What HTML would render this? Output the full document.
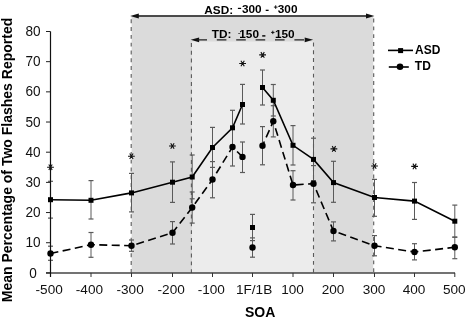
<!DOCTYPE html><html><head><meta charset="utf-8"><style>html,body{margin:0;padding:0;background:#fff;}svg{display:block;will-change:transform;}text{font-family:"Liberation Sans",sans-serif;}</style></head><body>
<svg width="466" height="320" viewBox="0 0 466 320">
<rect x="131.6" y="16.6" width="241.6" height="256.29999999999995" fill="#dbdbdb"/>
<rect x="191.9" y="41.5" width="122.20000000000002" height="231.39999999999998" fill="#ececec"/>
<line x1="131.2" y1="19.3" x2="131.2" y2="272.9" stroke="#5a5a5a" stroke-width="1.1" stroke-dasharray="3.9 3.9"/>
<line x1="191.4" y1="43" x2="191.4" y2="272.9" stroke="#5a5a5a" stroke-width="1.1" stroke-dasharray="3.9 3.9"/>
<line x1="313.5" y1="42.5" x2="313.5" y2="272.9" stroke="#5a5a5a" stroke-width="1.1" stroke-dasharray="3.9 3.9"/>
<line x1="373.7" y1="18.6" x2="373.7" y2="272.9" stroke="#5a5a5a" stroke-width="1.1" stroke-dasharray="3.9 3.9"/>
<line x1="46" y1="272.9" x2="455" y2="272.9" stroke="#444" stroke-width="1.5"/>
<line x1="46" y1="272.90" x2="50.5" y2="272.90" stroke="#222" stroke-width="1"/>
<text transform="translate(33.1 277.50) scale(1 1.1)" font-size="13.6" text-anchor="middle" fill="#111">0</text>
<line x1="46" y1="242.72" x2="50.5" y2="242.72" stroke="#222" stroke-width="1"/>
<text transform="translate(33.1 247.32) scale(1 1.1)" font-size="13.6" text-anchor="middle" fill="#111">10</text>
<line x1="46" y1="212.55" x2="50.5" y2="212.55" stroke="#222" stroke-width="1"/>
<text transform="translate(33.1 217.15) scale(1 1.1)" font-size="13.6" text-anchor="middle" fill="#111">20</text>
<line x1="46" y1="182.38" x2="50.5" y2="182.38" stroke="#222" stroke-width="1"/>
<text transform="translate(33.1 186.98) scale(1 1.1)" font-size="13.6" text-anchor="middle" fill="#111">30</text>
<line x1="46" y1="152.20" x2="50.5" y2="152.20" stroke="#222" stroke-width="1"/>
<text transform="translate(33.1 156.80) scale(1 1.1)" font-size="13.6" text-anchor="middle" fill="#111">40</text>
<line x1="46" y1="122.03" x2="50.5" y2="122.03" stroke="#222" stroke-width="1"/>
<text transform="translate(33.1 126.62) scale(1 1.1)" font-size="13.6" text-anchor="middle" fill="#111">50</text>
<line x1="46" y1="91.85" x2="50.5" y2="91.85" stroke="#222" stroke-width="1"/>
<text transform="translate(33.1 96.45) scale(1 1.1)" font-size="13.6" text-anchor="middle" fill="#111">60</text>
<line x1="46" y1="61.67" x2="50.5" y2="61.67" stroke="#222" stroke-width="1"/>
<text transform="translate(33.1 66.27) scale(1 1.1)" font-size="13.6" text-anchor="middle" fill="#111">70</text>
<line x1="46" y1="31.50" x2="50.5" y2="31.50" stroke="#222" stroke-width="1"/>
<text transform="translate(33.1 36.10) scale(1 1.1)" font-size="13.6" text-anchor="middle" fill="#111">80</text>
<line x1="50.5" y1="272.9" x2="50.5" y2="277" stroke="#333" stroke-width="1"/>
<text transform="translate(49.2 294.0)" font-size="13.6" text-anchor="middle" fill="#111">-500</text>
<line x1="91.0" y1="272.9" x2="91.0" y2="277" stroke="#333" stroke-width="1"/>
<text transform="translate(89.4 294.0)" font-size="13.6" text-anchor="middle" fill="#111">-400</text>
<line x1="131.5" y1="272.9" x2="131.5" y2="277" stroke="#333" stroke-width="1"/>
<text transform="translate(130.1 294.0)" font-size="13.6" text-anchor="middle" fill="#111">-300</text>
<line x1="172.5" y1="272.9" x2="172.5" y2="277" stroke="#333" stroke-width="1"/>
<text transform="translate(171.2 294.0)" font-size="13.6" text-anchor="middle" fill="#111">-200</text>
<line x1="212.5" y1="272.9" x2="212.5" y2="277" stroke="#333" stroke-width="1"/>
<text transform="translate(211.3 294.0)" font-size="13.6" text-anchor="middle" fill="#111">-100</text>
<line x1="252.5" y1="272.9" x2="252.5" y2="277" stroke="#333" stroke-width="1"/>
<text transform="translate(254.1 294.0)" font-size="13.6" text-anchor="middle" fill="#111">1F/1B</text>
<line x1="293.0" y1="272.9" x2="293.0" y2="277" stroke="#333" stroke-width="1"/>
<text transform="translate(292.5 294.0)" font-size="13.6" text-anchor="middle" fill="#111">100</text>
<line x1="333.5" y1="272.9" x2="333.5" y2="277" stroke="#333" stroke-width="1"/>
<text transform="translate(333.0 294.0)" font-size="13.6" text-anchor="middle" fill="#111">200</text>
<line x1="374.5" y1="272.9" x2="374.5" y2="277" stroke="#333" stroke-width="1"/>
<text transform="translate(374.0 294.0)" font-size="13.6" text-anchor="middle" fill="#111">300</text>
<line x1="414.5" y1="272.9" x2="414.5" y2="277" stroke="#333" stroke-width="1"/>
<text transform="translate(414.0 294.0)" font-size="13.6" text-anchor="middle" fill="#111">400</text>
<line x1="454.8" y1="272.9" x2="454.8" y2="277" stroke="#333" stroke-width="1"/>
<text transform="translate(454.3 294.0)" font-size="13.6" text-anchor="middle" fill="#111">500</text>
<text x="260.2" y="316.8" font-size="14" font-weight="bold" text-anchor="middle" fill="#000">SOA</text>
<text transform="translate(12.3 160) rotate(-90)" x="0" y="0" font-size="14" font-weight="bold" text-anchor="middle" fill="#000">Mean Percentage of Two Flashes Reported</text>
<line x1="50.5" y1="181.3" x2="50.5" y2="218.1" stroke="#5a5a5a" stroke-width="1"/><line x1="48.0" y1="181.3" x2="53.0" y2="181.3" stroke="#5a5a5a" stroke-width="1.2"/><line x1="48.0" y1="218.1" x2="53.0" y2="218.1" stroke="#5a5a5a" stroke-width="1.2"/>
<line x1="91.0" y1="180.6" x2="91.0" y2="219.0" stroke="#5a5a5a" stroke-width="1"/><line x1="88.5" y1="180.6" x2="93.5" y2="180.6" stroke="#5a5a5a" stroke-width="1.2"/><line x1="88.5" y1="219.0" x2="93.5" y2="219.0" stroke="#5a5a5a" stroke-width="1.2"/>
<line x1="131.5" y1="173.4" x2="131.5" y2="211.9" stroke="#5a5a5a" stroke-width="1"/><line x1="129.0" y1="173.4" x2="134.0" y2="173.4" stroke="#5a5a5a" stroke-width="1.2"/><line x1="129.0" y1="211.9" x2="134.0" y2="211.9" stroke="#5a5a5a" stroke-width="1.2"/>
<line x1="172.5" y1="161.9" x2="172.5" y2="202.4" stroke="#5a5a5a" stroke-width="1"/><line x1="170.0" y1="161.9" x2="175.0" y2="161.9" stroke="#5a5a5a" stroke-width="1.2"/><line x1="170.0" y1="202.4" x2="175.0" y2="202.4" stroke="#5a5a5a" stroke-width="1.2"/>
<line x1="192.2" y1="155.0" x2="192.2" y2="198.8" stroke="#5a5a5a" stroke-width="1"/><line x1="189.7" y1="155.0" x2="194.7" y2="155.0" stroke="#5a5a5a" stroke-width="1.2"/><line x1="189.7" y1="198.8" x2="194.7" y2="198.8" stroke="#5a5a5a" stroke-width="1.2"/>
<line x1="212.5" y1="127.4" x2="212.5" y2="167.4" stroke="#5a5a5a" stroke-width="1"/><line x1="210.0" y1="127.4" x2="215.0" y2="127.4" stroke="#5a5a5a" stroke-width="1.2"/><line x1="210.0" y1="167.4" x2="215.0" y2="167.4" stroke="#5a5a5a" stroke-width="1.2"/>
<line x1="232.5" y1="110.3" x2="232.5" y2="145.3" stroke="#5a5a5a" stroke-width="1"/><line x1="230.0" y1="110.3" x2="235.0" y2="110.3" stroke="#5a5a5a" stroke-width="1.2"/><line x1="230.0" y1="145.3" x2="235.0" y2="145.3" stroke="#5a5a5a" stroke-width="1.2"/>
<line x1="242.5" y1="84.4" x2="242.5" y2="124.0" stroke="#5a5a5a" stroke-width="1"/><line x1="240.0" y1="84.4" x2="245.0" y2="84.4" stroke="#5a5a5a" stroke-width="1.2"/><line x1="240.0" y1="124.0" x2="245.0" y2="124.0" stroke="#5a5a5a" stroke-width="1.2"/>
<line x1="252.5" y1="214.4" x2="252.5" y2="240.6" stroke="#5a5a5a" stroke-width="1"/><line x1="250.0" y1="214.4" x2="255.0" y2="214.4" stroke="#5a5a5a" stroke-width="1.2"/><line x1="250.0" y1="240.6" x2="255.0" y2="240.6" stroke="#5a5a5a" stroke-width="1.2"/>
<line x1="262.5" y1="70.0" x2="262.5" y2="105.0" stroke="#5a5a5a" stroke-width="1"/><line x1="260.0" y1="70.0" x2="265.0" y2="70.0" stroke="#5a5a5a" stroke-width="1.2"/><line x1="260.0" y1="105.0" x2="265.0" y2="105.0" stroke="#5a5a5a" stroke-width="1.2"/>
<line x1="273.3" y1="84.5" x2="273.3" y2="116.0" stroke="#5a5a5a" stroke-width="1"/><line x1="270.8" y1="84.5" x2="275.8" y2="84.5" stroke="#5a5a5a" stroke-width="1.2"/><line x1="270.8" y1="116.0" x2="275.8" y2="116.0" stroke="#5a5a5a" stroke-width="1.2"/>
<line x1="293.0" y1="125.6" x2="293.0" y2="165.0" stroke="#5a5a5a" stroke-width="1"/><line x1="290.5" y1="125.6" x2="295.5" y2="125.6" stroke="#5a5a5a" stroke-width="1.2"/><line x1="290.5" y1="165.0" x2="295.5" y2="165.0" stroke="#5a5a5a" stroke-width="1.2"/>
<line x1="313.5" y1="138.2" x2="313.5" y2="180.6" stroke="#5a5a5a" stroke-width="1"/><line x1="311.0" y1="138.2" x2="316.0" y2="138.2" stroke="#5a5a5a" stroke-width="1.2"/><line x1="311.0" y1="180.6" x2="316.0" y2="180.6" stroke="#5a5a5a" stroke-width="1.2"/>
<line x1="333.5" y1="161.3" x2="333.5" y2="202.3" stroke="#5a5a5a" stroke-width="1"/><line x1="331.0" y1="161.3" x2="336.0" y2="161.3" stroke="#5a5a5a" stroke-width="1.2"/><line x1="331.0" y1="202.3" x2="336.0" y2="202.3" stroke="#5a5a5a" stroke-width="1.2"/>
<line x1="374.5" y1="179.4" x2="374.5" y2="216.3" stroke="#5a5a5a" stroke-width="1"/><line x1="372.0" y1="179.4" x2="377.0" y2="179.4" stroke="#5a5a5a" stroke-width="1.2"/><line x1="372.0" y1="216.3" x2="377.0" y2="216.3" stroke="#5a5a5a" stroke-width="1.2"/>
<line x1="414.5" y1="182.5" x2="414.5" y2="219.4" stroke="#5a5a5a" stroke-width="1"/><line x1="412.0" y1="182.5" x2="417.0" y2="182.5" stroke="#5a5a5a" stroke-width="1.2"/><line x1="412.0" y1="219.4" x2="417.0" y2="219.4" stroke="#5a5a5a" stroke-width="1.2"/>
<line x1="454.8" y1="205.1" x2="454.8" y2="237.3" stroke="#5a5a5a" stroke-width="1"/><line x1="452.3" y1="205.1" x2="457.3" y2="205.1" stroke="#5a5a5a" stroke-width="1.2"/><line x1="452.3" y1="237.3" x2="457.3" y2="237.3" stroke="#5a5a5a" stroke-width="1.2"/>
<line x1="50.5" y1="246.2" x2="50.5" y2="260.3" stroke="#5a5a5a" stroke-width="1"/><line x1="48.0" y1="246.2" x2="53.0" y2="246.2" stroke="#5a5a5a" stroke-width="1.2"/><line x1="48.0" y1="260.3" x2="53.0" y2="260.3" stroke="#5a5a5a" stroke-width="1.2"/>
<line x1="91.0" y1="232.5" x2="91.0" y2="257.3" stroke="#5a5a5a" stroke-width="1"/><line x1="88.5" y1="232.5" x2="93.5" y2="232.5" stroke="#5a5a5a" stroke-width="1.2"/><line x1="88.5" y1="257.3" x2="93.5" y2="257.3" stroke="#5a5a5a" stroke-width="1.2"/>
<line x1="131.5" y1="240.0" x2="131.5" y2="251.3" stroke="#5a5a5a" stroke-width="1"/><line x1="129.0" y1="240.0" x2="134.0" y2="240.0" stroke="#5a5a5a" stroke-width="1.2"/><line x1="129.0" y1="251.3" x2="134.0" y2="251.3" stroke="#5a5a5a" stroke-width="1.2"/>
<line x1="172.5" y1="221.6" x2="172.5" y2="244.0" stroke="#5a5a5a" stroke-width="1"/><line x1="170.0" y1="221.6" x2="175.0" y2="221.6" stroke="#5a5a5a" stroke-width="1.2"/><line x1="170.0" y1="244.0" x2="175.0" y2="244.0" stroke="#5a5a5a" stroke-width="1.2"/>
<line x1="192.2" y1="192.0" x2="192.2" y2="223.1" stroke="#5a5a5a" stroke-width="1"/><line x1="189.7" y1="192.0" x2="194.7" y2="192.0" stroke="#5a5a5a" stroke-width="1.2"/><line x1="189.7" y1="223.1" x2="194.7" y2="223.1" stroke="#5a5a5a" stroke-width="1.2"/>
<line x1="212.5" y1="161.6" x2="212.5" y2="197.8" stroke="#5a5a5a" stroke-width="1"/><line x1="210.0" y1="161.6" x2="215.0" y2="161.6" stroke="#5a5a5a" stroke-width="1.2"/><line x1="210.0" y1="197.8" x2="215.0" y2="197.8" stroke="#5a5a5a" stroke-width="1.2"/>
<line x1="232.5" y1="128.0" x2="232.5" y2="166.0" stroke="#5a5a5a" stroke-width="1"/><line x1="230.0" y1="128.0" x2="235.0" y2="128.0" stroke="#5a5a5a" stroke-width="1.2"/><line x1="230.0" y1="166.0" x2="235.0" y2="166.0" stroke="#5a5a5a" stroke-width="1.2"/>
<line x1="242.5" y1="142.0" x2="242.5" y2="172.5" stroke="#5a5a5a" stroke-width="1"/><line x1="240.0" y1="142.0" x2="245.0" y2="142.0" stroke="#5a5a5a" stroke-width="1.2"/><line x1="240.0" y1="172.5" x2="245.0" y2="172.5" stroke="#5a5a5a" stroke-width="1.2"/>
<line x1="252.5" y1="237.9" x2="252.5" y2="257.2" stroke="#5a5a5a" stroke-width="1"/><line x1="250.0" y1="237.9" x2="255.0" y2="237.9" stroke="#5a5a5a" stroke-width="1.2"/><line x1="250.0" y1="257.2" x2="255.0" y2="257.2" stroke="#5a5a5a" stroke-width="1.2"/>
<line x1="262.5" y1="126.6" x2="262.5" y2="164.8" stroke="#5a5a5a" stroke-width="1"/><line x1="260.0" y1="126.6" x2="265.0" y2="126.6" stroke="#5a5a5a" stroke-width="1.2"/><line x1="260.0" y1="164.8" x2="265.0" y2="164.8" stroke="#5a5a5a" stroke-width="1.2"/>
<line x1="273.3" y1="105.7" x2="273.3" y2="136.9" stroke="#5a5a5a" stroke-width="1"/><line x1="270.8" y1="105.7" x2="275.8" y2="105.7" stroke="#5a5a5a" stroke-width="1.2"/><line x1="270.8" y1="136.9" x2="275.8" y2="136.9" stroke="#5a5a5a" stroke-width="1.2"/>
<line x1="293.0" y1="170.7" x2="293.0" y2="200.0" stroke="#5a5a5a" stroke-width="1"/><line x1="290.5" y1="170.7" x2="295.5" y2="170.7" stroke="#5a5a5a" stroke-width="1.2"/><line x1="290.5" y1="200.0" x2="295.5" y2="200.0" stroke="#5a5a5a" stroke-width="1.2"/>
<line x1="313.5" y1="165.6" x2="313.5" y2="202.8" stroke="#5a5a5a" stroke-width="1"/><line x1="311.0" y1="165.6" x2="316.0" y2="165.6" stroke="#5a5a5a" stroke-width="1.2"/><line x1="311.0" y1="202.8" x2="316.0" y2="202.8" stroke="#5a5a5a" stroke-width="1.2"/>
<line x1="333.5" y1="221.9" x2="333.5" y2="240.9" stroke="#5a5a5a" stroke-width="1"/><line x1="331.0" y1="221.9" x2="336.0" y2="221.9" stroke="#5a5a5a" stroke-width="1.2"/><line x1="331.0" y1="240.9" x2="336.0" y2="240.9" stroke="#5a5a5a" stroke-width="1.2"/>
<line x1="374.5" y1="235.6" x2="374.5" y2="255.8" stroke="#5a5a5a" stroke-width="1"/><line x1="372.0" y1="235.6" x2="377.0" y2="235.6" stroke="#5a5a5a" stroke-width="1.2"/><line x1="372.0" y1="255.8" x2="377.0" y2="255.8" stroke="#5a5a5a" stroke-width="1.2"/>
<line x1="414.5" y1="243.7" x2="414.5" y2="259.9" stroke="#5a5a5a" stroke-width="1"/><line x1="412.0" y1="243.7" x2="417.0" y2="243.7" stroke="#5a5a5a" stroke-width="1.2"/><line x1="412.0" y1="259.9" x2="417.0" y2="259.9" stroke="#5a5a5a" stroke-width="1.2"/>
<line x1="454.8" y1="237.0" x2="454.8" y2="258.7" stroke="#5a5a5a" stroke-width="1"/><line x1="452.3" y1="237.0" x2="457.3" y2="237.0" stroke="#5a5a5a" stroke-width="1.2"/><line x1="452.3" y1="258.7" x2="457.3" y2="258.7" stroke="#5a5a5a" stroke-width="1.2"/>
<line x1="50.5" y1="31.5" x2="50.5" y2="277" stroke="#111" stroke-width="1.2"/>
<polyline points="50.5,199.7 91.0,200.3 131.5,192.9 172.5,182.2 192.2,177.0 212.5,147.5 232.5,127.8 242.5,104.5" fill="none" stroke="#000" stroke-width="1.6"/>
<polyline points="50.5,253.5 91.0,244.7 131.5,245.7 172.5,232.8 192.2,207.5 212.5,179.5 232.5,147.0 242.5,156.9" fill="none" stroke="#000" stroke-width="1.6" stroke-dasharray="8 4.43" stroke-dashoffset="0"/>
<polyline points="262.5,87.5 273.3,100.3 293.0,145.3 313.5,159.4 333.5,182.6 374.5,197.5 414.5,201.1 454.8,221.2" fill="none" stroke="#000" stroke-width="1.6"/>
<polyline points="262.5,145.7 273.3,121.3 293.0,185.0 313.5,183.7 333.5,231.0 374.5,245.7 414.5,252.0 454.8,247.3" fill="none" stroke="#000" stroke-width="1.6" stroke-dasharray="8 4.43" stroke-dashoffset="3.4"/>
<rect x="48.0" y="197.2" width="5" height="5" fill="#000"/>
<rect x="88.5" y="197.8" width="5" height="5" fill="#000"/>
<rect x="129.0" y="190.4" width="5" height="5" fill="#000"/>
<rect x="170.0" y="179.7" width="5" height="5" fill="#000"/>
<rect x="189.7" y="174.5" width="5" height="5" fill="#000"/>
<rect x="210.0" y="145.0" width="5" height="5" fill="#000"/>
<rect x="230.0" y="125.3" width="5" height="5" fill="#000"/>
<rect x="240.0" y="102.0" width="5" height="5" fill="#000"/>
<rect x="250.0" y="225.0" width="5" height="5" fill="#000"/>
<rect x="260.0" y="85.0" width="5" height="5" fill="#000"/>
<rect x="270.8" y="97.8" width="5" height="5" fill="#000"/>
<rect x="290.5" y="142.8" width="5" height="5" fill="#000"/>
<rect x="311.0" y="156.9" width="5" height="5" fill="#000"/>
<rect x="331.0" y="180.1" width="5" height="5" fill="#000"/>
<rect x="372.0" y="195.0" width="5" height="5" fill="#000"/>
<rect x="412.0" y="198.6" width="5" height="5" fill="#000"/>
<rect x="452.3" y="218.7" width="5" height="5" fill="#000"/>
<circle cx="50.5" cy="253.5" r="3.2" fill="#000"/>
<circle cx="91.0" cy="244.7" r="3.2" fill="#000"/>
<circle cx="131.5" cy="245.7" r="3.2" fill="#000"/>
<circle cx="172.5" cy="232.8" r="3.2" fill="#000"/>
<circle cx="192.2" cy="207.5" r="3.2" fill="#000"/>
<circle cx="212.5" cy="179.5" r="3.2" fill="#000"/>
<circle cx="232.5" cy="147.0" r="3.2" fill="#000"/>
<circle cx="242.5" cy="156.9" r="3.2" fill="#000"/>
<circle cx="252.5" cy="247.45" r="3.2" fill="#000"/>
<circle cx="262.5" cy="145.7" r="3.2" fill="#000"/>
<circle cx="273.3" cy="121.3" r="3.2" fill="#000"/>
<circle cx="293.0" cy="185.0" r="3.2" fill="#000"/>
<circle cx="313.5" cy="183.7" r="3.2" fill="#000"/>
<circle cx="333.5" cy="231.0" r="3.2" fill="#000"/>
<circle cx="374.5" cy="245.7" r="3.2" fill="#000"/>
<circle cx="414.5" cy="252.0" r="3.2" fill="#000"/>
<circle cx="454.8" cy="247.3" r="3.2" fill="#000"/>
<path d="M47.10,167.30L53.90,167.30M48.80,164.53L52.20,170.07M52.20,164.53L48.80,170.07" stroke="#111" stroke-width="1.1" fill="none"/>
<path d="M128.00,156.25L134.80,156.25M129.70,153.48L133.10,159.02M133.10,153.48L129.70,159.02" stroke="#111" stroke-width="1.1" fill="none"/>
<path d="M169.00,146.00L175.80,146.00M170.70,143.23L174.10,148.77M174.10,143.23L170.70,148.77" stroke="#111" stroke-width="1.1" fill="none"/>
<path d="M239.20,63.50L246.00,63.50M240.90,60.73L244.30,66.27M244.30,60.73L240.90,66.27" stroke="#111" stroke-width="1.1" fill="none"/>
<path d="M259.20,54.90L266.00,54.90M260.90,52.13L264.30,57.67M264.30,52.13L260.90,57.67" stroke="#111" stroke-width="1.1" fill="none"/>
<path d="M330.50,148.90L337.30,148.90M332.20,146.13L335.60,151.67M335.60,146.13L332.20,151.67" stroke="#111" stroke-width="1.1" fill="none"/>
<path d="M371.10,166.00L377.90,166.00M372.80,163.23L376.20,168.77M376.20,163.23L372.80,168.77" stroke="#111" stroke-width="1.1" fill="none"/>
<path d="M411.20,166.40L418.00,166.40M412.90,163.63L416.30,169.17M416.30,163.63L412.90,169.17" stroke="#111" stroke-width="1.1" fill="none"/>
<line x1="136" y1="16.0" x2="368" y2="16.0" stroke="#111" stroke-width="1.35"/>
<path d="M130.2,16.0 L138.8,13.6 L138.8,18.4 Z" fill="#111"/>
<path d="M374.4,16.0 L366.0,13.6 L366.0,18.4 Z" fill="#111"/>
<path d="M190.7,39.8 L199.1,37.45 L199.1,42.15 Z" fill="#111"/>
<path d="M313.1,39.8 L304.7,37.45 L304.7,42.15 Z" fill="#111"/>
<line x1="197.4" y1="39.8" x2="304" y2="39.8" stroke="#222" stroke-width="1.35" stroke-dasharray="9.6 9.8"/>
<g font-size="11.8" font-weight="bold" fill="#000">
<text x="204.3" y="13.6">ASD:</text>
<rect x="237.9" y="7.8" width="3.2" height="1.2" fill="#000"/>
<text x="242.0" y="13.3">300</text>
<rect x="265.7" y="9.7" width="2.9" height="1.3" fill="#000"/>
<path d="M273.9,7.1H277.5M275.7,5.3V8.9" stroke="#000" stroke-width="0.9"/>
<text x="277.8" y="13.3">300</text>
</g>
<g font-size="11.8" font-weight="bold" fill="#000">
<text x="211.7" y="37.6">TD:</text>
<rect x="238.2" y="33" width="2" height="1" fill="#555"/>
<text x="239.3" y="37.6">150</text>
<rect x="262.2" y="35.2" width="3.2" height="1.4" fill="#000"/>
<path d="M271.1,32.4H274.5M272.8,30.7V34.1" stroke="#000" stroke-width="0.9"/>
<text x="274.9" y="37.6">150</text>
</g>
<line x1="388" y1="50.4" x2="413" y2="50.4" stroke="#000" stroke-width="1.6"/>
<rect x="398.1" y="48.1" width="5" height="5" fill="#000"/>
<text x="415" y="54" font-size="12" font-weight="bold" fill="#000">ASD</text>
<line x1="388.8" y1="67" x2="408.8" y2="67" stroke="#000" stroke-width="1.6"/>
<circle cx="400" cy="66.8" r="3.3" fill="#000"/>
<text x="414.8" y="70.4" font-size="12" font-weight="bold" fill="#000">TD</text>
</svg></body></html>
